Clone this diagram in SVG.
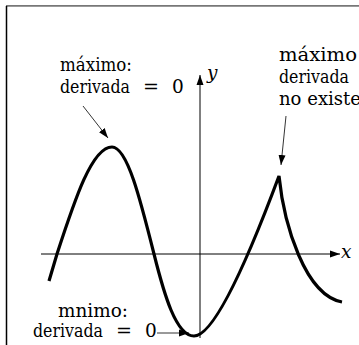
<svg xmlns="http://www.w3.org/2000/svg" width="359" height="345" viewBox="0 0 359 345">
<defs>
<style>
.t{font-family:'DejaVu Serif','Liberation Serif',serif;font-size:18.5px;fill:#000}
.it{font-style:italic}
.ax{stroke:#000;stroke-width:1;fill:none}
.ann{stroke:#000;stroke-width:0.8;fill:none}
.curve{stroke:#000;stroke-width:3.2;fill:none;stroke-linejoin:miter}
</style>
<marker id="ah" markerUnits="userSpaceOnUse" markerWidth="10" markerHeight="8" refX="10" refY="3.5" orient="auto" viewBox="0 0 10 7">
<path d="M0,0 L10,3.5 L0,7 z" fill="#000"/>
</marker>
</defs>
<rect width="359" height="345" fill="#fff"/>
<g id="frame">
<line x1="6" y1="5.8" x2="359" y2="5.8" stroke="#777" stroke-width="1.8"/>
<line x1="6.5" y1="6" x2="6.5" y2="345" stroke="#000" stroke-width="1.5"/>
</g>
<g id="axes">
<line class="ax" x1="41" y1="254" x2="340" y2="254" marker-end="url(#ah)"/>
<line class="ax" x1="200" y1="338" x2="200" y2="75" marker-end="url(#ah)"/>
<text class="t it" x="341" y="258">x</text>
<text class="t it" x="207" y="79">y</text>
</g>
<g id="curve">
<path class="curve" d="M49,281 L57,254 C74.9,199.2 92.1,147 112,147 C127.2,147 140.3,199.2 154,254 C164,294 176,336 194,336 C216,336 254,243 279,176 C284,225 305,295 342,302"/>
</g>
<g id="label-max">
<text class="t" x="60" y="71" textLength="72" lengthAdjust="spacingAndGlyphs">máximo:</text>
<text class="t" x="60" y="93" textLength="70" lengthAdjust="spacingAndGlyphs">derivada</text>
<text class="t" x="143" y="93" textLength="16" lengthAdjust="spacingAndGlyphs">=</text>
<text class="t" x="172" y="93">0</text>
</g>
<g id="label-cusp">
<text class="t" x="279" y="61" textLength="78" lengthAdjust="spacingAndGlyphs">máximo</text>
<text class="t" x="279" y="83" textLength="70" lengthAdjust="spacingAndGlyphs">derivada</text>
<text class="t" x="279" y="105" textLength="82" lengthAdjust="spacingAndGlyphs">no existe</text>
</g>
<g id="label-min">
<text class="t" x="58" y="317" textLength="70" lengthAdjust="spacingAndGlyphs">mnimo:</text>
<text class="t" x="33" y="337" textLength="70" lengthAdjust="spacingAndGlyphs">derivada</text>
<text class="t" x="116" y="337" textLength="16" lengthAdjust="spacingAndGlyphs">=</text>
<text class="t" x="145" y="337">0</text>
</g>
<g id="connectors">
<line class="ann" x1="83" y1="106" x2="108" y2="138" marker-end="url(#ah)"/>
<line class="ann" x1="286" y1="116" x2="281" y2="165" marker-end="url(#ah)"/>
<line class="ann" x1="157" y1="333" x2="189" y2="333" marker-end="url(#ah)"/>
</g>
</svg>
